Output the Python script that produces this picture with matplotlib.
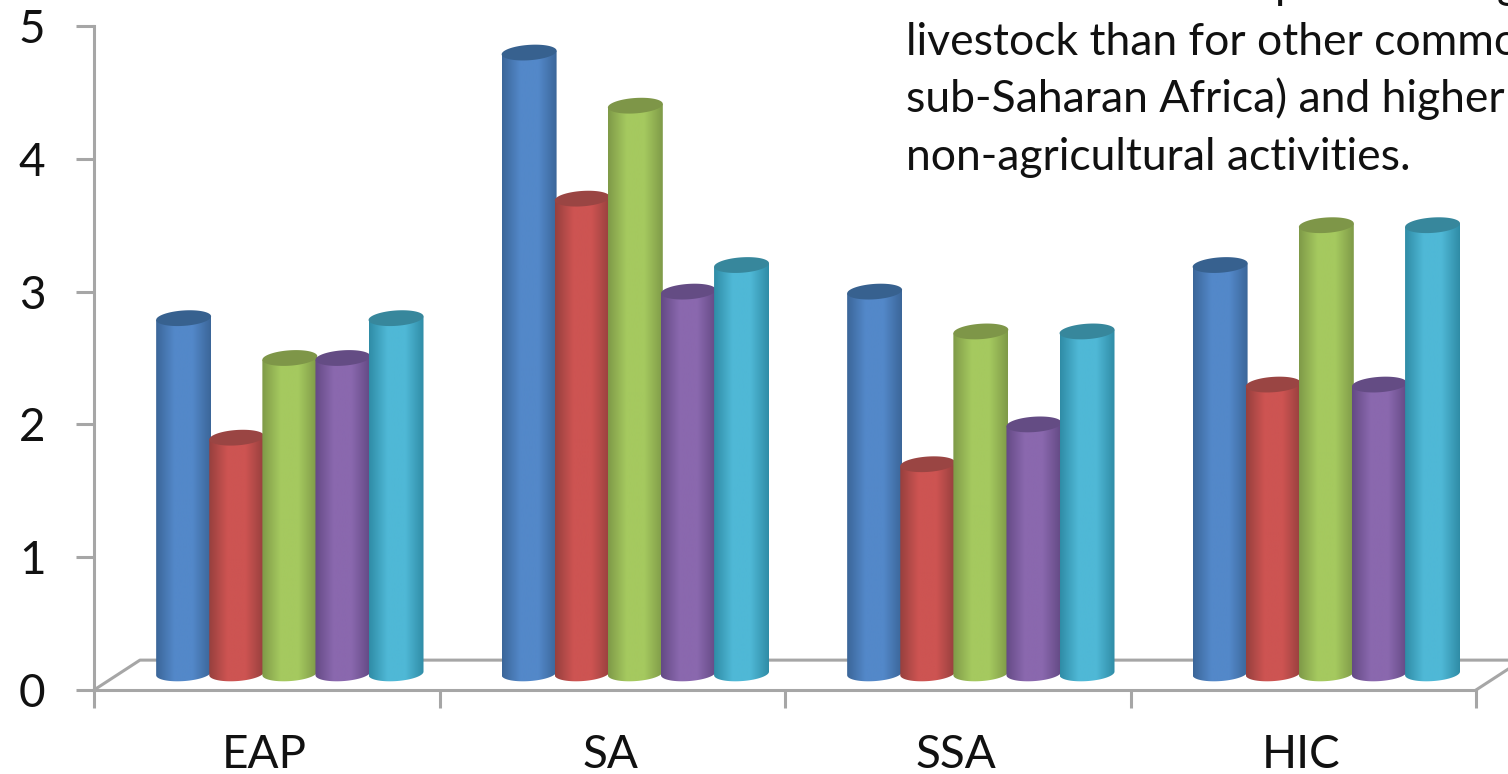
import numpy as np
import matplotlib.pyplot as plt
from matplotlib.colors import LinearSegmentedColormap
from matplotlib.patches import PathPatch, Polygon
from matplotlib.path import Path

plt.rcParams['font.family'] = ['Lato', 'DejaVu Sans']

# regional values, one list per series
categories = ['EAP', 'SA', 'SSA', 'HIC']
series_a = [2.8, 4.8, 3.0, 3.2]
series_b = [1.9, 3.7, 1.7, 2.3]
series_c = [2.5, 4.4, 2.7, 3.5]
series_d = [2.5, 3.0, 2.0, 2.3]
series_e = [2.8, 3.2, 2.7, 3.5]
y_ticks = [0, 1, 2, 3, 4, 5]

# edge, mid and top-cap shades for the cylinders
shades = [
    ('#3b6699', '#5388c9', '#37618f'),
    ('#97403e', '#cd5452', '#9a4543'),
    ('#7f9a48', '#a5c95f', '#7e9648'),
    ('#644a85', '#8a68ae', '#644c84'),
    ('#2f8ca6', '#4fb8d6', '#37879c'),
]

bar_w = 0.159      # cylinder width in category units
bar_step = 0.1537  # spacing, cylinders overlap a little
bar_off = 0.0668   # group shift towards the back wall
base = 0.125       # cylinder foot above the front axis
floor_dx = 0.133   # depth of the floor
floor_dy = 0.225
rx = bar_w / 2
ry = 0.058
tilt = 0.17


def ellipse_pts(cx, cy):
    t = np.linspace(0, 2 * np.pi, 80)
    x = rx * np.cos(t)
    y = ry * np.sin(t) + tilt * x
    return np.column_stack([cx + x, cy + y])


def draw_cylinder(ax, cx, value, edge, mid, cap, z):
    # body: half ellipse at the foot, straight sides, shaded left to right
    t = np.linspace(np.pi, 2 * np.pi, 40)
    foot = np.column_stack([cx + rx * np.cos(t),
                            base + ry * np.sin(t) + tilt * rx * np.cos(t)])
    top = [[cx + rx, value + tilt * rx], [cx - rx, value - tilt * rx]]
    body = np.vstack([foot, top, foot[:1]])
    cmap = LinearSegmentedColormap.from_list('cyl', [edge, mid, mid, edge])
    img = ax.imshow(np.linspace(0, 1, 128)[None, :], cmap=cmap, aspect='auto',
                    extent=[cx - rx, cx + rx, base - 2 * ry, value + ry],
                    zorder=z)
    img.set_clip_path(PathPatch(Path(body), transform=ax.transData))
    ax.add_patch(Polygon(ellipse_pts(cx, value), closed=True, fc=cap, ec='none',
                         zorder=z + 0.01, clip_on=False))


fig = plt.figure(figsize=(15.08, 7.74), dpi=100)
ax = fig.add_axes([94 / 1508, 84 / 774, (1476 - 94) / 1508, (690 - 26) / 774])

grey = '#a6a6a6'
ax.set_xlim(0, 4)
ax.set_ylim(0, 5)
for s in ['top', 'right']:
    ax.spines[s].set_visible(False)
for s in ['left', 'bottom']:
    ax.spines[s].set_color(grey)
    ax.spines[s].set_linewidth(2.2)
ax.set_yticks(y_ticks)
ax.set_xticks(range(5))
ax.set_xticklabels([])
ax.tick_params(axis='both', color=grey, width=2.2, length=13, labelsize=33, pad=22,
               labelcolor='#111111')

# floor behind the bars
ax.plot([0, floor_dx, 4 + 0.1], [0, floor_dy, floor_dy], color=grey, lw=2.2,
        clip_on=False, zorder=1)
ax.plot([4, 4 + floor_dx], [0, floor_dy], color=grey, lw=2.2, clip_on=False, zorder=1)

all_series = [series_a, series_b, series_c, series_d, series_e]
for i, vals in enumerate(all_series):
    for j, v in enumerate(vals):
        cx = j + 0.5 + bar_off + (i - 2) * bar_step
        draw_cylinder(ax, cx, v, *shades[i], 3 + i * 0.1)
ax.set_xlim(0, 4)
ax.set_ylim(0, 5)

for j, name in enumerate(categories):
    ax.annotate(name, (j + 0.5, 0), xytext=(-2, -65), textcoords='offset pixels',
                ha='center', va='center', fontsize=33, color='#111111',
                annotation_clip=False)

# text block running off the slide, only descenders of its first line show
for x, ch in [(1275, 'p'), (1497, 'g')]:
    fig.text(x / 1508, 1 + 2 / 774, ch, fontsize=32, color='#111111',
             ha='left', va='baseline')
body_lines = ['livestock than for other commo',
              'sub-Saharan Africa) and higher',
              'non-agricultural activities.']
for k, line in enumerate(body_lines):
    fig.text(906 / 1508, 1 - (55 + k * 57.5) / 774, line, fontsize=32, color='#111111',
             ha='left', va='baseline')

fig.savefig('out.png', dpi=100)
